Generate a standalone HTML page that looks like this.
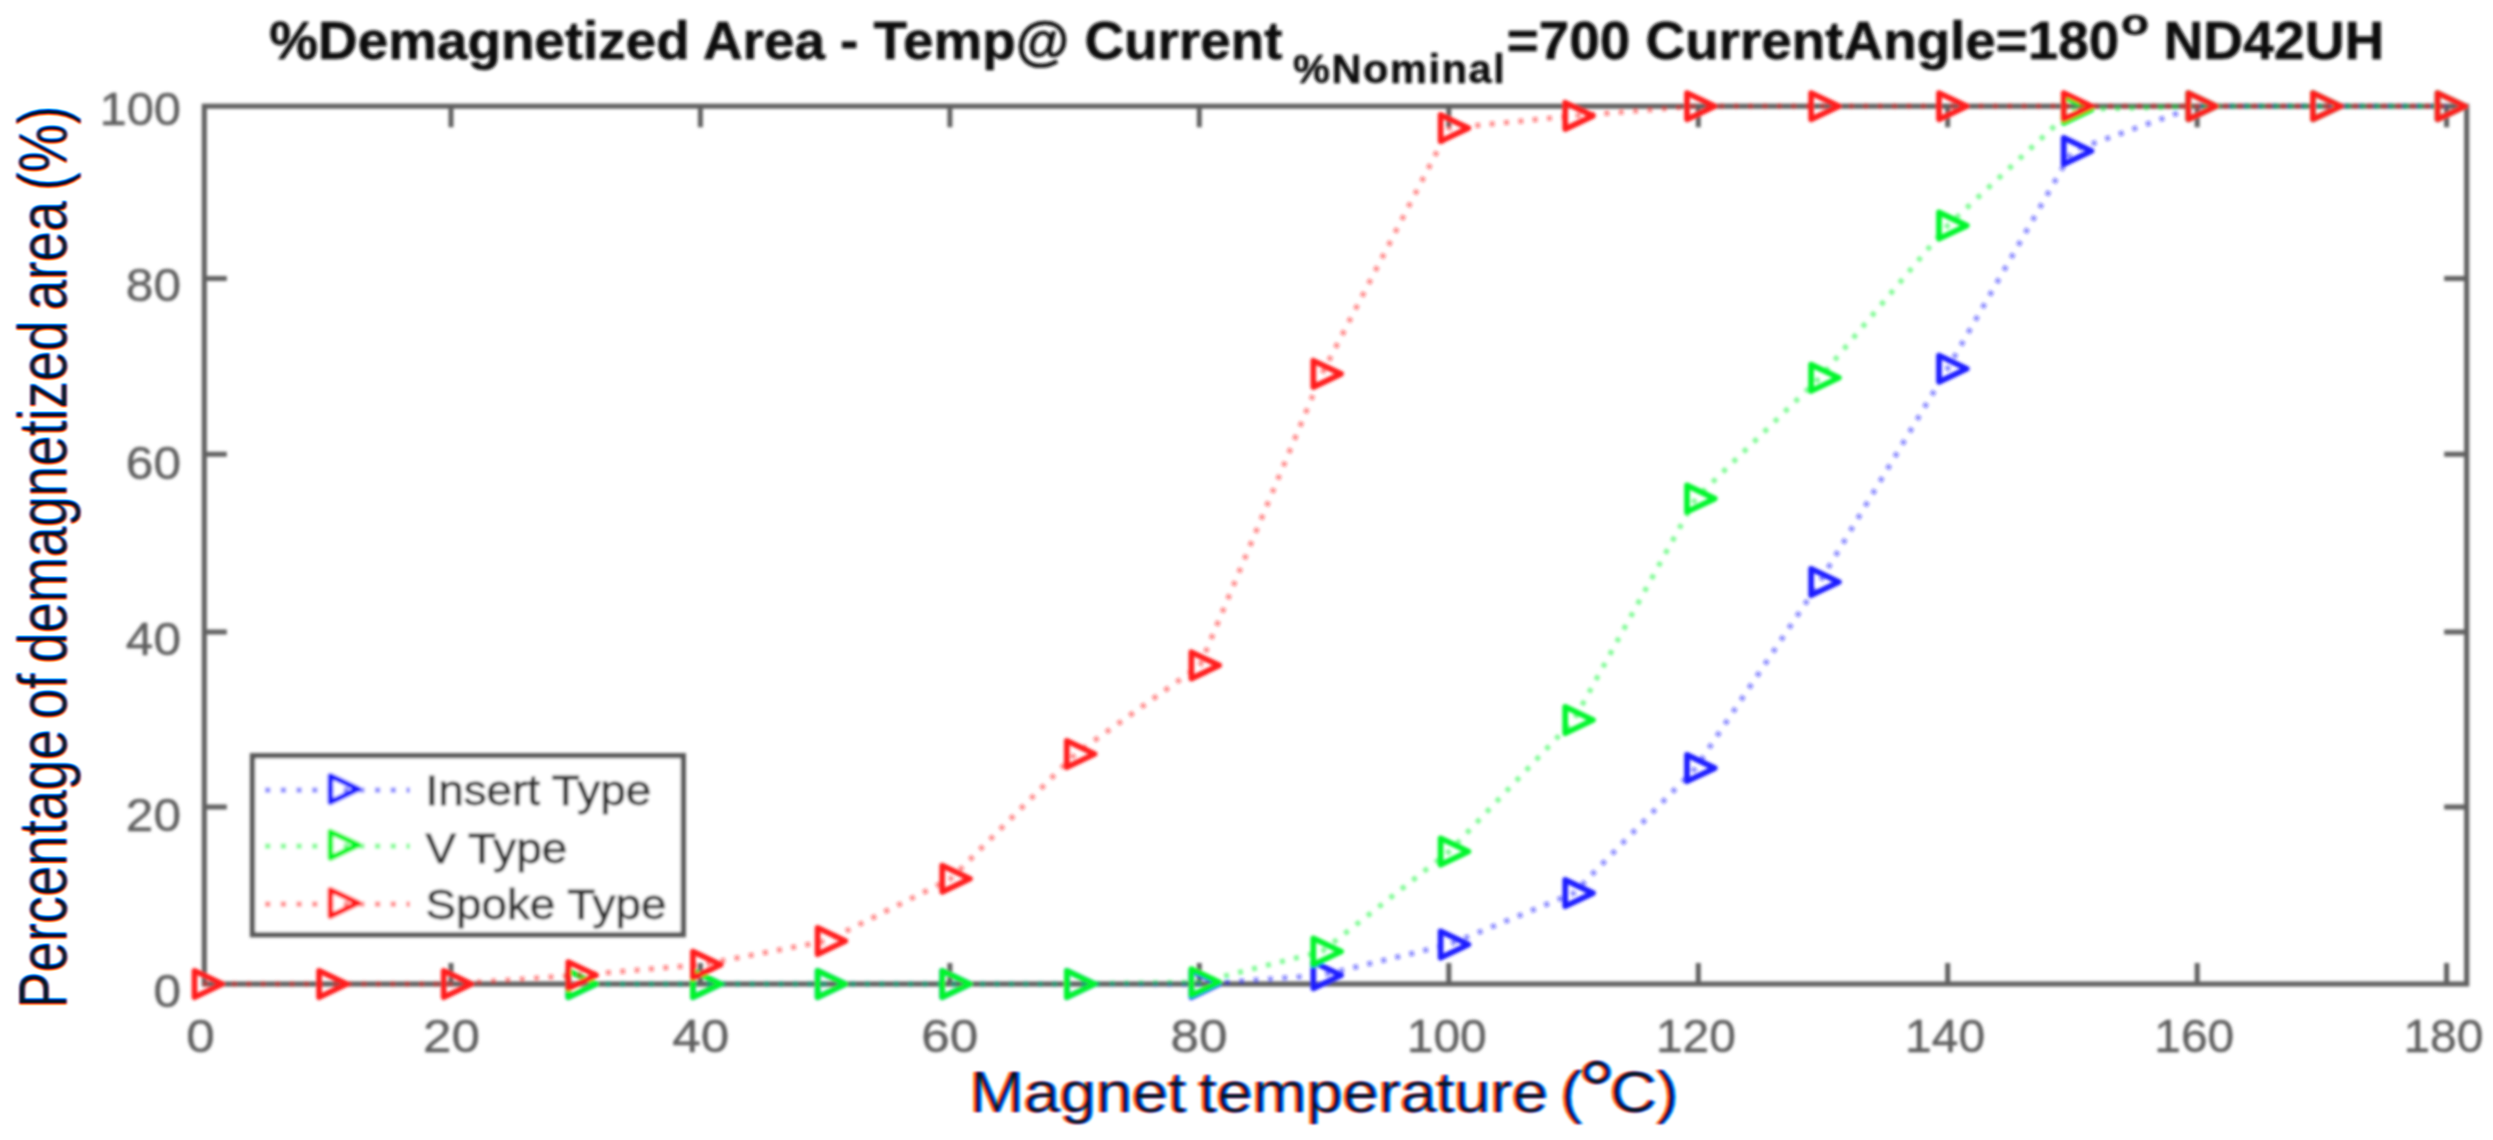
<!DOCTYPE html>
<html lang="en"><head><meta charset="utf-8"><title>%Demagnetized Area - Temp</title>
<style>
html,body{margin:0;padding:0;background:#fff;}
body{width:2493px;height:1140px;overflow:hidden;}
svg{display:block;font-family:"Liberation Sans",Arial,Helvetica,sans-serif;}
.ax{fill:none;stroke:#606060;stroke-width:5.1;}
.tk{stroke:#606060;stroke-width:5;fill:none;}
.tl{font-size:47px;fill:#5e5e5e;stroke:#5e5e5e;stroke-width:.4;}
.ttl{font-weight:bold;fill:#111;stroke:#111;stroke-width:.5;}
.lg{font-size:42px;fill:#333;stroke:#333;stroke-width:.8;}
.mk{fill:none;stroke-width:5.7;stroke-linejoin:round;}
.ln{fill:none;stroke-width:5.2;stroke-dasharray:5 9.4;opacity:.48;}
.b{stroke:#1a1aff;} .g{stroke:#00f52a;} .r{stroke:#ff1c1c;}
.lab{fill:#0a0a12;}
</style></head><body>
<svg width="2493" height="1140" viewBox="0 0 2493 1140">
<defs>
<filter id="soft" x="-2%" y="-2%" width="104%" height="104%"><feGaussianBlur stdDeviation="1.7"/></filter>
<filter id="ct" x="-2%" y="-10%" width="104%" height="120%" color-interpolation-filters="sRGB">
<feGaussianBlur in="SourceAlpha" stdDeviation="0.9" result="a"/>
<feOffset in="a" dx="-1.6" result="aL"/><feOffset in="a" dx="1.6" result="aR"/>
<feFlood flood-color="#ffa22a"/><feComposite in2="aL" operator="in" result="cL"/>
<feFlood flood-color="#ff2fd2"/><feComposite in2="a" operator="in" result="cM"/>
<feFlood flood-color="#00b4ff"/><feComposite in2="aR" operator="in" result="cR"/>
<feBlend in="cL" in2="cM" mode="multiply" result="m1"/>
<feBlend in="m1" in2="cR" mode="multiply"/>
</filter>
<filter id="ct2" x="-2%" y="-10%" width="104%" height="120%" color-interpolation-filters="sRGB">
<feGaussianBlur in="SourceAlpha" stdDeviation="0.75" result="a"/>
<feOffset in="a" dx="-1.15" result="aL"/><feOffset in="a" dx="1.15" result="aR"/>
<feFlood flood-color="#ffa22a"/><feComposite in2="aL" operator="in" result="cL"/>
<feFlood flood-color="#ff2fd2"/><feComposite in2="a" operator="in" result="cM"/>
<feFlood flood-color="#00b4ff"/><feComposite in2="aR" operator="in" result="cR"/>
<feBlend in="cL" in2="cM" mode="multiply" result="m1"/>
<feBlend in="m1" in2="cR" mode="multiply"/>
</filter>
</defs>
<rect width="2493" height="1140" fill="#fff"/>
<g filter="url(#soft)">
<g class="ttl" font-size="53.3">
<text transform="translate(269.3 59.3) scale(1.029 1)">%Demagnetized Area - Temp@ Current</text>
<text transform="translate(1293 82.5)" font-size="41.5" letter-spacing="1.6">%Nominal</text>
<text transform="translate(1506.8 59.3) scale(1.029 1)">=700 CurrentAngle=180</text>
<text transform="translate(2121 35.4) scale(1.24 1)" font-size="37">o</text>
<text transform="translate(2163.5 59.3) scale(1.036 1)">ND42UH</text>
</g>
<rect class="ax" x="204.3" y="106.2" width="2262.4" height="877.8"/>
<path class="tk" d="M451.0 106.2v21M451.0 984v-21M700.4 106.2v21M700.4 984v-21M949.9 106.2v21M949.9 984v-21M1199.3 106.2v21M1199.3 984v-21M1448.8 106.2v21M1448.8 984v-21M1698.3 106.2v21M1698.3 984v-21M1947.7 106.2v21M1947.7 984v-21M2197.2 106.2v21M2197.2 984v-21M2446.6 106.2v21M2446.6 984v-21M204.3 278.5h22.5M2466.7 278.5h-22.5M204.3 454.3h22.5M2466.7 454.3h-22.5M204.3 631.9h22.5M2466.7 631.9h-22.5M204.3 806.9h22.5M2466.7 806.9h-22.5"/>
<g class="tl" text-anchor="middle">
<text transform="translate(200.4 1052) scale(1.09 1)">0</text>
<text transform="translate(451.5 1052) scale(1.09 1)">20</text>
<text transform="translate(700.7 1052) scale(1.09 1)">40</text>
<text transform="translate(949.8 1052) scale(1.09 1)">60</text>
<text transform="translate(1199.0 1052) scale(1.09 1)">80</text>
<text transform="translate(1446.7 1052) scale(1.02 1)">100</text>
<text transform="translate(1695.9 1052) scale(1.02 1)">120</text>
<text transform="translate(1945.1 1052) scale(1.02 1)">140</text>
<text transform="translate(2194.2 1052) scale(1.02 1)">160</text>
<text transform="translate(2443.4 1052) scale(1.02 1)">180</text>
</g><g class="tl" text-anchor="end">
<text transform="translate(181 125.3) scale(1.04 1)">100</text>
<text transform="translate(181 301.4) scale(1.055 1)">80</text>
<text transform="translate(181 478.5) scale(1.055 1)">60</text>
<text transform="translate(181 654.6) scale(1.055 1)">40</text>
<text transform="translate(181 831.0) scale(1.055 1)">20</text>
<text transform="translate(181 1007.2) scale(1.055 1)">0</text>
</g>
<polyline class="ln b" points="576.9,984.0 701.5,984.0 826.2,984.0 950.8,984.0 1075.4,984.0 1200.0,984.0 1321.9,975.2 1449.2,944.5 1573.8,893.1 1695.6,768.1 1819.7,582.0 1947.6,368.7 2072.2,151.0 2196.9,106.2 2321.5,106.2 2446.1,106.2"/>
<path class="mk b" d="M568.3 970.8L596.1 984.0L568.3 997.2Z"/>
<path class="mk b" d="M692.9 970.8L720.7 984.0L692.9 997.2Z"/>
<path class="mk b" d="M817.6 970.8L845.4 984.0L817.6 997.2Z"/>
<path class="mk b" d="M942.2 970.8L970.0 984.0L942.2 997.2Z"/>
<path class="mk b" d="M1066.8 970.8L1094.6 984.0L1066.8 997.2Z"/>
<path class="mk b" d="M1191.4 970.8L1219.2 984.0L1191.4 997.2Z"/>
<path class="mk b" d="M1313.3 962.0L1341.1 975.2L1313.3 988.4Z"/>
<path class="mk b" d="M1440.6 931.3L1468.4 944.5L1440.6 957.7Z"/>
<path class="mk b" d="M1565.2 879.9L1593.0 893.1L1565.2 906.3Z"/>
<path class="mk b" d="M1687.0 754.9L1714.8 768.1L1687.0 781.3Z"/>
<path class="mk b" d="M1811.1 568.8L1838.9 582.0L1811.1 595.2Z"/>
<path class="mk b" d="M1939.0 355.5L1966.8 368.7L1939.0 381.9Z"/>
<path class="mk b" d="M2063.7 137.8L2091.5 151.0L2063.7 164.2Z"/>
<path class="mk b" d="M2188.3 93.0L2216.1 106.2L2188.3 119.4Z"/>
<path class="mk b" d="M2312.9 93.0L2340.7 106.2L2312.9 119.4Z"/>
<path class="mk b" d="M2437.5 93.0L2465.3 106.2L2437.5 119.4Z"/>
<polyline class="ln g" points="576.9,984.0 701.5,984.0 826.2,984.0 950.8,984.0 1075.4,984.0 1200.0,982.2 1321.9,951.5 1449.2,851.5 1573.8,720.0 1695.6,498.6 1819.7,377.8 1947.6,225.6 2072.2,109.7 2196.9,106.2 2321.5,106.2 2446.1,106.2"/>
<path class="mk g" d="M568.3 970.8L596.1 984.0L568.3 997.2Z"/>
<path class="mk g" d="M692.9 970.8L720.7 984.0L692.9 997.2Z"/>
<path class="mk g" d="M817.6 970.8L845.4 984.0L817.6 997.2Z"/>
<path class="mk g" d="M942.2 970.8L970.0 984.0L942.2 997.2Z"/>
<path class="mk g" d="M1066.8 970.8L1094.6 984.0L1066.8 997.2Z"/>
<path class="mk g" d="M1191.4 969.0L1219.2 982.2L1191.4 995.4Z"/>
<path class="mk g" d="M1313.3 938.3L1341.1 951.5L1313.3 964.7Z"/>
<path class="mk g" d="M1440.6 838.3L1468.4 851.5L1440.6 864.7Z"/>
<path class="mk g" d="M1565.2 706.8L1593.0 720.0L1565.2 733.2Z"/>
<path class="mk g" d="M1687.0 485.4L1714.8 498.6L1687.0 511.8Z"/>
<path class="mk g" d="M1811.1 364.6L1838.9 377.8L1811.1 391.0Z"/>
<path class="mk g" d="M1939.0 212.4L1966.8 225.6L1939.0 238.8Z"/>
<path class="mk g" d="M2063.7 96.5L2091.5 109.7L2063.7 122.9Z"/>
<path class="mk g" d="M2188.3 93.0L2216.1 106.2L2188.3 119.4Z"/>
<path class="mk g" d="M2312.9 93.0L2340.7 106.2L2312.9 119.4Z"/>
<path class="mk g" d="M2437.5 93.0L2465.3 106.2L2437.5 119.4Z"/>
<polyline class="ln r" points="203.1,984.0 327.7,984.0 452.3,984.0 576.9,975.2 701.5,964.7 826.2,941.0 950.8,878.7 1075.4,754.0 1200.0,665.4 1321.9,373.9 1449.2,128.1 1573.8,115.9 1695.6,106.2 1819.7,106.2 1947.6,106.2 2072.2,106.2 2196.9,106.2 2321.5,106.2 2446.1,106.2"/>
<path class="mk r" d="M194.5 970.8L222.3 984.0L194.5 997.2Z"/>
<path class="mk r" d="M319.1 970.8L346.9 984.0L319.1 997.2Z"/>
<path class="mk r" d="M443.7 970.8L471.5 984.0L443.7 997.2Z"/>
<path class="mk r" d="M568.3 962.0L596.1 975.2L568.3 988.4Z"/>
<path class="mk r" d="M692.9 951.5L720.7 964.7L692.9 977.9Z"/>
<path class="mk r" d="M817.6 927.8L845.4 941.0L817.6 954.2Z"/>
<path class="mk r" d="M942.2 865.5L970.0 878.7L942.2 891.9Z"/>
<path class="mk r" d="M1066.8 740.8L1094.6 754.0L1066.8 767.2Z"/>
<path class="mk r" d="M1191.4 652.2L1219.2 665.4L1191.4 678.6Z"/>
<path class="mk r" d="M1313.3 360.7L1341.1 373.9L1313.3 387.1Z"/>
<path class="mk r" d="M1440.6 114.9L1468.4 128.1L1440.6 141.3Z"/>
<path class="mk r" d="M1565.2 102.7L1593.0 115.9L1565.2 129.1Z"/>
<path class="mk r" d="M1687.0 93.0L1714.8 106.2L1687.0 119.4Z"/>
<path class="mk r" d="M1811.1 93.0L1838.9 106.2L1811.1 119.4Z"/>
<path class="mk r" d="M1939.0 93.0L1966.8 106.2L1939.0 119.4Z"/>
<path class="mk r" d="M2063.7 93.0L2091.5 106.2L2063.7 119.4Z"/>
<path class="mk r" d="M2188.3 93.0L2216.1 106.2L2188.3 119.4Z"/>
<path class="mk r" d="M2312.9 93.0L2340.7 106.2L2312.9 119.4Z"/>
<path class="mk r" d="M2437.5 93.0L2465.3 106.2L2437.5 119.4Z"/>
<rect x="252.5" y="755.7" width="430.8" height="179" fill="#fff" stroke="#585858" stroke-width="5.3"/>
<path class="ln b" style="stroke-dasharray:5.4 10.3" d="M265 790.2H410"/>
<path class="mk b" d="M330.4 775.8L358.2 789.0L330.4 802.2Z"/>
<text class="lg" transform="translate(425.5 804.6) scale(1.09 1)">Insert Type</text>
<path class="ln g" style="stroke-dasharray:5.4 10.3" d="M265 846.1H410"/>
<path class="mk g" d="M330.4 831.7L358.2 844.9L330.4 858.1Z"/>
<text class="lg" transform="translate(425.5 862.5) scale(1.09 1)">V Type</text>
<path class="ln r" style="stroke-dasharray:5.4 10.3" d="M265 904.2H410"/>
<path class="mk r" d="M330.4 889.8L358.2 903.0L330.4 916.2Z"/>
<text class="lg" transform="translate(425.5 918.5) scale(1.09 1)">Spoke Type</text>
</g>
<g class="lab">
<text filter="url(#ct2)" transform="translate(66.5 1008.5) rotate(-90) scale(1 1.27)" font-size="54.5" word-spacing="-4.6">Percentage of demagnetized area (%)</text>
<text filter="url(#ct)" transform="translate(969.5 1112) scale(1.138 1)" font-size="57" word-spacing="-5">Magnet temperature (<tspan font-size="84" dy="6.5" dx="-4">°</tspan><tspan dy="-6.5" dx="-5">C)</tspan></text>
</g>
</svg></body></html>
